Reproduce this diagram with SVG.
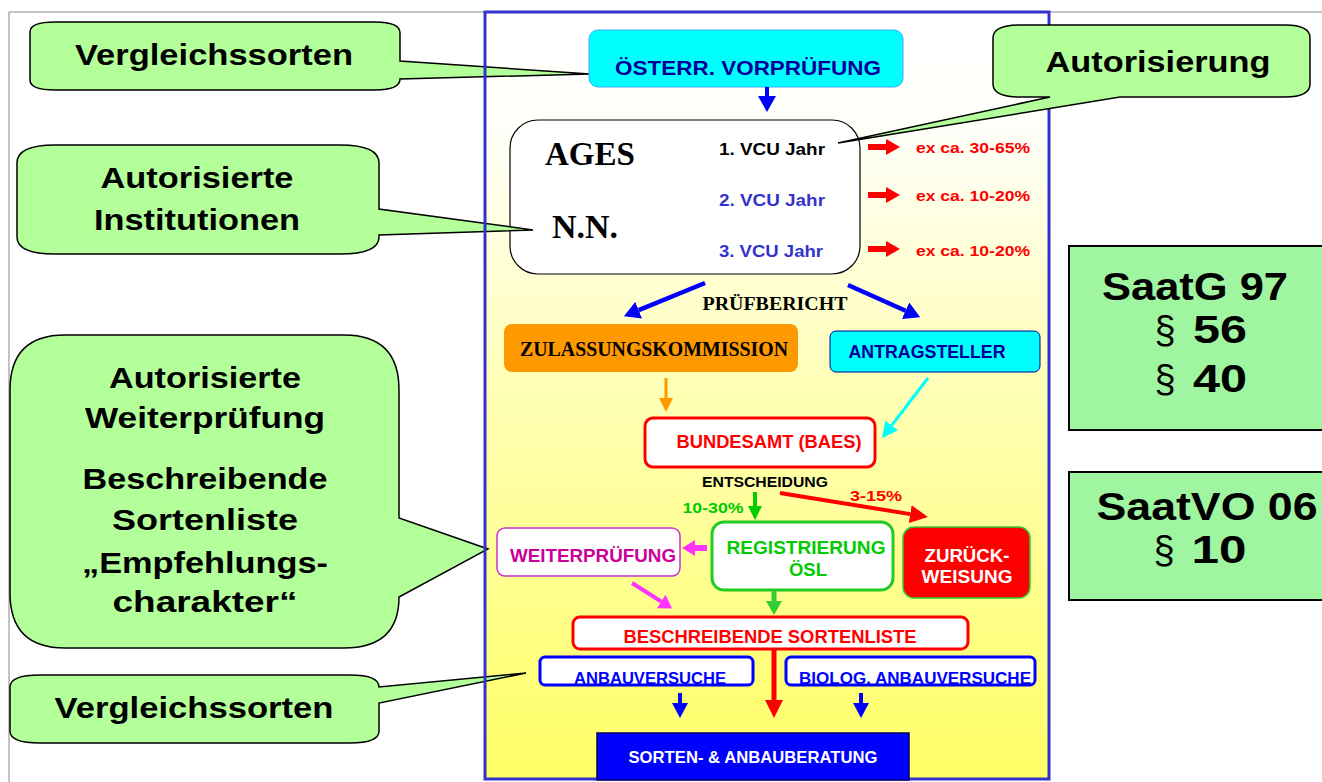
<svg xmlns="http://www.w3.org/2000/svg" width="1322" height="782" viewBox="0 0 1322 782">
<defs>
  <linearGradient id="panelGrad" x1="0" y1="0" x2="0" y2="1">
    <stop offset="0" stop-color="#ffffff"/>
    <stop offset="0.15" stop-color="#fffffa"/>
    <stop offset="0.5" stop-color="#ffffb4"/>
    <stop offset="1" stop-color="#ffff66"/>
  </linearGradient>
  <marker id="hBlue" viewBox="0 0 16 18" refX="0" refY="9" markerWidth="16" markerHeight="18" markerUnits="userSpaceOnUse" orient="auto"><path d="M0,0 L16,9 L0,18 z" fill="#0000ff"/></marker>
  <marker id="hBlueS" viewBox="0 0 15 16" refX="0" refY="8" markerWidth="15" markerHeight="16" markerUnits="userSpaceOnUse" orient="auto"><path d="M0,0 L15,8 L0,16 z" fill="#0000ff"/></marker>
  <marker id="hRedBlock" viewBox="0 0 14 16" refX="0" refY="8" markerWidth="14" markerHeight="16" markerUnits="userSpaceOnUse" orient="auto"><path d="M0,0 L14,8 L0,16 z" fill="#ff0000"/></marker>
  <marker id="hRed" viewBox="0 0 18 18" refX="0" refY="9" markerWidth="18" markerHeight="18" markerUnits="userSpaceOnUse" orient="auto"><path d="M0,0 L18,9 L0,18 z" fill="#ff0000"/></marker>
  <marker id="hOrange" viewBox="0 0 14 14" refX="0" refY="7" markerWidth="14" markerHeight="14" markerUnits="userSpaceOnUse" orient="auto"><path d="M0,0 L14,7 L0,14 z" fill="#ff9900"/></marker>
  <marker id="hCyan" viewBox="0 0 16 16" refX="0" refY="8" markerWidth="16" markerHeight="16" markerUnits="userSpaceOnUse" orient="auto"><path d="M0,0 L16,8 L0,16 z" fill="#00ffff"/></marker>
  <marker id="hGreen" viewBox="0 0 14 14" refX="0" refY="7" markerWidth="14" markerHeight="14" markerUnits="userSpaceOnUse" orient="auto"><path d="M0,0 L14,7 L0,14 z" fill="#00cc00"/></marker>
  <marker id="hGreen2" viewBox="0 0 14 16" refX="0" refY="8" markerWidth="14" markerHeight="16" markerUnits="userSpaceOnUse" orient="auto"><path d="M0,0 L14,8 L0,16 z" fill="#33cc33"/></marker>
  <marker id="hMag" viewBox="0 0 13 16" refX="0" refY="8" markerWidth="13" markerHeight="16" markerUnits="userSpaceOnUse" orient="auto"><path d="M0,0 L13,8 L0,16 z" fill="#ff33ff"/></marker>
</defs>
<style>
  .sans{font-family:"Liberation Sans",Arial,sans-serif;font-weight:bold}
  .serif{font-family:"Liberation Serif","Times New Roman",serif;font-weight:bold}
  .reg{font-family:"Liberation Sans",Arial,sans-serif;font-weight:normal}
  .callout{fill:#b3ff99;stroke:#000000;stroke-width:1.5;stroke-linejoin:miter}
  .ctext{font-size:29px;fill:#000000;text-anchor:middle}
  .law{fill:#a0f5a0;stroke:#000000;stroke-width:2}
  .lawtext{font-size:38px;fill:#000000;text-anchor:middle}
  .mid{text-anchor:middle}
</style>

<rect x="0" y="0" width="1322" height="782" fill="#ffffff"/>
<g id="frame">
  <line x1="9" y1="12" x2="1322" y2="12" stroke="#888888" stroke-width="1"/>
  <line x1="9" y1="12" x2="9" y2="782" stroke="#888888" stroke-width="1"/>
</g>

<rect id="panel-fill" x="485" y="12" width="564" height="767" fill="url(#panelGrad)"/>

<g id="n-ages">
  <rect x="510" y="120" width="350" height="154" rx="28" ry="28" fill="#ffffff" stroke="#000000" stroke-width="1.2"/>
  <text class="serif" x="545" y="165" font-size="34" textLength="90" lengthAdjust="spacingAndGlyphs">AGES</text>
  <text class="serif" x="552" y="238" font-size="34" textLength="66" lengthAdjust="spacingAndGlyphs">N.N.</text>
  <text class="sans" x="719" y="155" font-size="16" fill="#000000" textLength="106" lengthAdjust="spacingAndGlyphs">1. VCU Jahr</text>
  <text class="sans" x="719" y="206" font-size="16" fill="#3333cc" textLength="106" lengthAdjust="spacingAndGlyphs">2. VCU Jahr</text>
  <text class="sans" x="719" y="257" font-size="16" fill="#3333cc" textLength="104" lengthAdjust="spacingAndGlyphs">3. VCU Jahr</text>
</g>

<g id="c-vergleich-top">
  <path class="callout" d="M 55,22 H 375 Q 400,22 400,33 V 61 L 590,74 L 400,79 Q 400,90 375,90 H 55 Q 30,90 30,80 V 32 Q 30,22 55,22 Z"/>
  <text class="sans ctext" x="214" y="65" font-size="31" textLength="278" lengthAdjust="spacingAndGlyphs">Vergleichssorten</text>
</g>
<g id="c-institutionen">
  <path class="callout" d="M 55,145 H 340 Q 379,145 379,163 V 209 L 533,230 L 379,235 V 237 Q 379,254 340,254 H 55 Q 17,254 17,237 V 163 Q 17,145 55,145 Z"/>
  <text class="sans ctext" x="197" y="188" textLength="193" lengthAdjust="spacingAndGlyphs">Autorisierte</text>
  <text class="sans ctext" x="197" y="230" textLength="206" lengthAdjust="spacingAndGlyphs">Institutionen</text>
</g>
<g id="c-weiterpruefung">
  <path class="callout" d="M 65,335 H 344 Q 399,335 399,390 V 518 L 488,549 L 399,597 Q 399,648 344,648 H 65 Q 10,648 10,593 V 390 Q 10,335 65,335 Z"/>
  <text class="sans ctext" x="205" y="388" textLength="192" lengthAdjust="spacingAndGlyphs">Autorisierte</text>
  <text class="sans ctext" x="205" y="428" textLength="240" lengthAdjust="spacingAndGlyphs">Weiterprüfung</text>
  <text class="sans ctext" x="205" y="489" textLength="245" lengthAdjust="spacingAndGlyphs">Beschreibende</text>
  <text class="sans ctext" x="205" y="530" textLength="186" lengthAdjust="spacingAndGlyphs">Sortenliste</text>
  <text class="sans ctext" x="205" y="573" textLength="246" lengthAdjust="spacingAndGlyphs">„Empfehlungs-</text>
  <text class="sans ctext" x="205" y="612" textLength="185" lengthAdjust="spacingAndGlyphs">charakter“</text>
</g>
<g id="c-vergleich-bottom">
  <path class="callout" d="M 40,675 H 350 Q 379,675 379,687 L 526,673 L 379,703 V 731 Q 379,743 350,743 H 40 Q 10,743 10,731 V 687 Q 10,675 40,675 Z"/>
  <text class="sans ctext" x="194" y="718" font-size="31" textLength="279" lengthAdjust="spacingAndGlyphs">Vergleichssorten</text>
</g>

<rect id="panel-border" x="485" y="12" width="564" height="767" fill="none" stroke="#3333cc" stroke-width="3"/>

<g id="c-autorisierung">
  <path class="callout" d="M 1020,25 H 1285 Q 1310,25 1310,38 V 84 Q 1310,97 1285,97 H 1120 L 838,143 L 1050,97 H 1020 Q 993,97 993,84 V 38 Q 993,25 1020,25 Z"/>
  <text class="sans ctext" x="1158" y="72" font-size="31" textLength="225" lengthAdjust="spacingAndGlyphs">Autorisierung</text>
</g>

<g id="n-saatg">
  <rect class="law" x="1069" y="246" width="262" height="184"/>
  <text class="sans lawtext" x="1195" y="300" textLength="186" lengthAdjust="spacingAndGlyphs">SaatG 97</text>
  <text class="reg lawtext" x="1165" y="343" font-size="34">§</text>
  <text class="sans lawtext" x="1220" y="343" textLength="54" lengthAdjust="spacingAndGlyphs">56</text>
  <text class="reg lawtext" x="1165" y="392" font-size="34">§</text>
  <text class="sans lawtext" x="1220" y="392" textLength="54" lengthAdjust="spacingAndGlyphs">40</text>
</g>
<g id="n-saatvo">
  <rect class="law" x="1069" y="472" width="262" height="128"/>
  <text class="sans lawtext" x="1207" y="520" textLength="221" lengthAdjust="spacingAndGlyphs">SaatVO 06</text>
  <text class="reg lawtext" x="1164" y="563" font-size="34">§</text>
  <text class="sans lawtext" x="1219" y="563" textLength="55" lengthAdjust="spacingAndGlyphs">10</text>
</g>

<g id="n-vorpruefung">
  <rect x="589" y="30" width="314" height="57" rx="9" ry="9" fill="#00ffff" stroke="#33aaff" stroke-width="1"/>
  <text class="sans mid" x="748" y="75" font-size="21" fill="#000099" textLength="266" lengthAdjust="spacingAndGlyphs">ÖSTERR. VORPRÜFUNG</text>
</g>

<g id="l-ex">
  <text class="sans" x="916" y="153" font-size="14.5" fill="#ff0000" textLength="114" lengthAdjust="spacingAndGlyphs">ex ca. 30-65%</text>
  <text class="sans" x="916" y="201" font-size="14.5" fill="#ff0000" textLength="114" lengthAdjust="spacingAndGlyphs">ex ca. 10-20%</text>
  <text class="sans" x="916" y="256" font-size="14.5" fill="#ff0000" textLength="114" lengthAdjust="spacingAndGlyphs">ex ca. 10-20%</text>
</g>

<g id="l-pruefbericht">
  <text class="serif mid" x="775" y="310" font-size="19" fill="#000000" textLength="145" lengthAdjust="spacingAndGlyphs">PRÜFBERICHT</text>
</g>

<g id="n-zulassung">
  <rect x="504" y="324" width="294" height="48" rx="8" ry="8" fill="#ff9900"/>
  <text class="serif mid" x="654" y="356" font-size="20" fill="#000000" textLength="268" lengthAdjust="spacingAndGlyphs">ZULASSUNGSKOMMISSION</text>
</g>
<g id="n-antragsteller">
  <rect x="830" y="331" width="210" height="41" rx="6" ry="6" fill="#00ffff" stroke="#000099" stroke-width="1"/>
  <text class="sans mid" x="927" y="358" font-size="18" fill="#000099" textLength="157" lengthAdjust="spacingAndGlyphs">ANTRAGSTELLER</text>
</g>
<g id="n-bundesamt">
  <rect x="645" y="418" width="230" height="49" rx="8" ry="8" fill="#ffffff" stroke="#ff0000" stroke-width="3"/>
  <text class="sans mid" x="769" y="448" font-size="18" fill="#ff0000" textLength="185" lengthAdjust="spacingAndGlyphs">BUNDESAMT (BAES)</text>
</g>
<g id="l-entscheidung">
  <text class="sans mid" x="765" y="487" font-size="14.5" fill="#000000" textLength="126" lengthAdjust="spacingAndGlyphs">ENTSCHEIDUNG</text>
  <text class="sans mid" x="713" y="513" font-size="14.5" fill="#00cc00" textLength="61" lengthAdjust="spacingAndGlyphs">10-30%</text>
  <text class="sans mid" x="876" y="501" font-size="14.5" fill="#ff0000" textLength="52" lengthAdjust="spacingAndGlyphs">3-15%</text>
</g>
<g id="n-weiterpruefung">
  <rect x="497" y="528" width="183" height="48" rx="8" ry="8" fill="#ffffff" stroke="#cc33cc" stroke-width="1.5"/>
  <text class="sans mid" x="593" y="562" font-size="18" fill="#cc0099" textLength="166" lengthAdjust="spacingAndGlyphs">WEITERPRÜFUNG</text>
</g>
<g id="n-registrierung">
  <rect x="712" y="522" width="181" height="68" rx="12" ry="12" fill="#ffffff" stroke="#22cc22" stroke-width="3"/>
  <text class="sans mid" x="806" y="554" font-size="18.5" fill="#00cc00" textLength="159" lengthAdjust="spacingAndGlyphs">REGISTRIERUNG</text>
  <text class="sans mid" x="808" y="576" font-size="18.5" fill="#00cc00">ÖSL</text>
</g>
<g id="n-zurueckweisung">
  <rect x="903" y="527" width="127" height="71" rx="11" ry="11" fill="#ff0000" stroke="#33cc33" stroke-width="1.5"/>
  <text class="sans mid" x="967" y="562" font-size="18" fill="#ffffff" textLength="85" lengthAdjust="spacingAndGlyphs">ZURÜCK-</text>
  <text class="sans mid" x="967" y="583" font-size="18" fill="#ffffff" textLength="91" lengthAdjust="spacingAndGlyphs">WEISUNG</text>
</g>
<g id="n-sortenliste">
  <rect x="573" y="617" width="395" height="32" rx="7" ry="7" fill="#ffffff" stroke="#ff0000" stroke-width="3"/>
  <text class="sans mid" x="770" y="643" font-size="18" fill="#ff0000" textLength="293" lengthAdjust="spacingAndGlyphs">BESCHREIBENDE SORTENLISTE</text>
</g>
<g id="n-anbau">
  <rect x="540" y="657" width="213" height="28" rx="5" ry="5" fill="#ffffff"/>
  <text class="sans mid" x="650" y="684" font-size="16.5" fill="#0000ff" textLength="152" lengthAdjust="spacingAndGlyphs">ANBAUVERSUCHE</text>
  <rect x="540" y="657" width="213" height="28" rx="5" ry="5" fill="none" stroke="#0000ff" stroke-width="3"/>
</g>
<g id="n-biolog">
  <rect x="786" y="657" width="249" height="28" rx="5" ry="5" fill="#ffffff"/>
  <text class="sans mid" x="915" y="684" font-size="16.5" fill="#0000ff" textLength="232" lengthAdjust="spacingAndGlyphs">BIOLOG. ANBAUVERSUCHE</text>
  <rect x="786" y="657" width="249" height="28" rx="5" ry="5" fill="none" stroke="#0000ff" stroke-width="3"/>
</g>
<g id="n-beratung">
  <rect x="597" y="733" width="312" height="47" fill="#0000ff" stroke="#000066" stroke-width="1.5"/>
  <text class="sans mid" x="753" y="763" font-size="16.5" fill="#ffffff" textLength="249" lengthAdjust="spacingAndGlyphs">SORTEN- &amp; ANBAUBERATUNG</text>
</g>

<g id="connectors" fill="none">
  <line x1="767" y1="87" x2="767" y2="96" stroke="#0000ff" stroke-width="4" marker-end="url(#hBlue)"/>
  <line x1="868" y1="147" x2="886" y2="147" stroke="#ff0000" stroke-width="6" marker-end="url(#hRedBlock)"/>
  <line x1="868" y1="195" x2="886" y2="195" stroke="#ff0000" stroke-width="6" marker-end="url(#hRedBlock)"/>
  <line x1="868" y1="249" x2="886" y2="249" stroke="#ff0000" stroke-width="6" marker-end="url(#hRedBlock)"/>
  <line x1="705" y1="283" x2="638.7" y2="310.2" stroke="#0000ff" stroke-width="4.5" marker-end="url(#hBlue)"/>
  <line x1="848" y1="285" x2="905.6" y2="310.7" stroke="#0000ff" stroke-width="4.5" marker-end="url(#hBlue)"/>
  <line x1="666" y1="378" x2="666" y2="398" stroke="#ff9900" stroke-width="3" marker-end="url(#hOrange)"/>
  <line x1="928" y1="378" x2="891.7" y2="425.3" stroke="#00ffff" stroke-width="3" marker-end="url(#hCyan)"/>
  <line x1="755" y1="492" x2="755" y2="506" stroke="#00cc00" stroke-width="4" marker-end="url(#hGreen)"/>
  <line x1="780" y1="493" x2="910.2" y2="514.1" stroke="#ff0000" stroke-width="4" marker-end="url(#hRed)"/>
  <line x1="707" y1="548" x2="695" y2="548" stroke="#ff33ff" stroke-width="6" marker-end="url(#hMag)"/>
  <line x1="632" y1="583" x2="661.2" y2="601.5" stroke="#ff33ff" stroke-width="4" marker-end="url(#hMag)"/>
  <line x1="774" y1="591" x2="774" y2="601" stroke="#33cc33" stroke-width="5" marker-end="url(#hGreen2)"/>
  <line x1="774" y1="650" x2="774" y2="700" stroke="#ff0000" stroke-width="5" marker-end="url(#hRed)"/>
  <line x1="680" y1="693" x2="680" y2="703" stroke="#0000ff" stroke-width="4" marker-end="url(#hBlueS)"/>
  <line x1="861" y1="693" x2="861" y2="703" stroke="#0000ff" stroke-width="4" marker-end="url(#hBlueS)"/>
</g>
</svg>
